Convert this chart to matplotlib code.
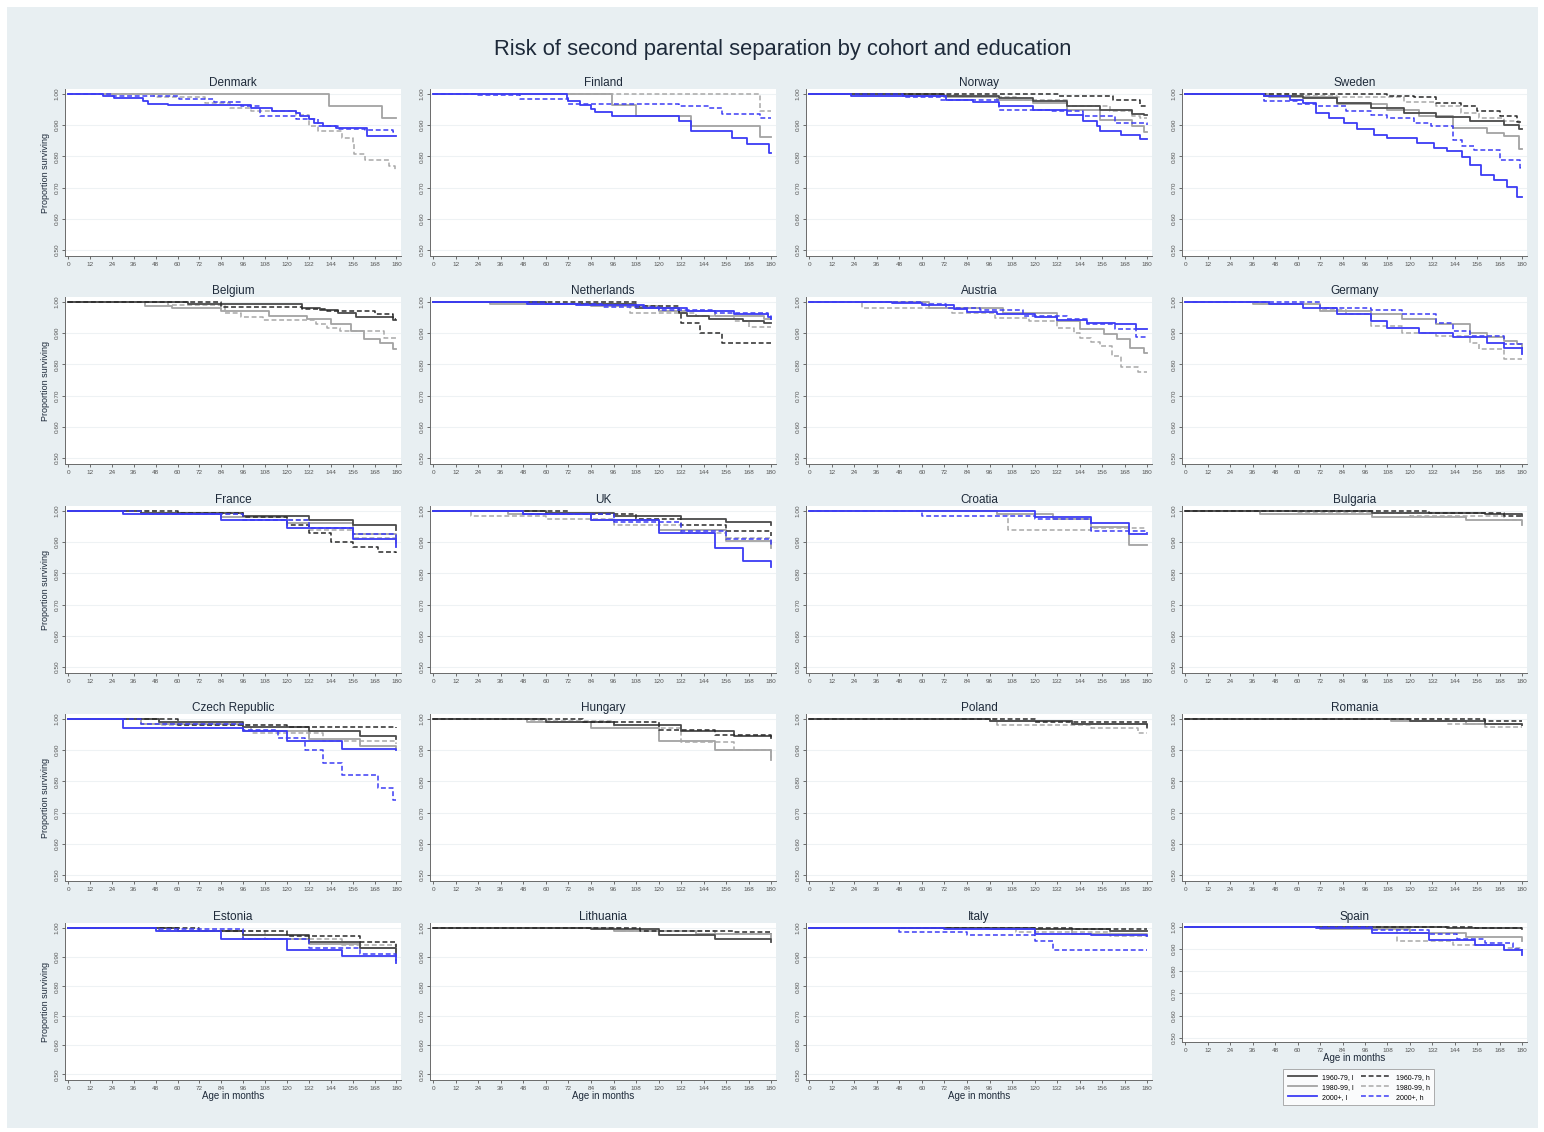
import matplotlib.pyplot as plt
from matplotlib.lines import Line2D
from matplotlib.patches import Rectangle

# Kaplan-Meier survival, read as (month, proportion surviving) steps.
# l1/h1 = 1960-79 low/high education, l2/h2 = 1980-99, l3/h3 = 2000+
denmark = {
    "l2": [(0, 1.0), (143, 0.962), (172, 0.923), (180, 0.923)],
    "h2": [(0, 1.0), (47, 0.99), (75, 0.97), (89, 0.955), (100, 0.945), (125, 0.934),
           (132, 0.896), (137, 0.88), (150, 0.86), (156, 0.843), (157, 0.808),
           (163, 0.789), (176, 0.77), (179, 0.755), (180, 0.755)],
    "l3": [(0, 1.0), (19, 0.995), (25, 0.987), (41, 0.976), (44, 0.969), (55, 0.965),
           (100, 0.956), (112, 0.947), (125, 0.939), (127, 0.93), (132, 0.92),
           (135, 0.907), (140, 0.898), (147, 0.89), (164, 0.864), (180, 0.864)],
    "h3": [(0, 1.0), (24, 0.995), (61, 0.985), (80, 0.975), (95, 0.96), (105, 0.93),
           (125, 0.92), (137, 0.896), (148, 0.888), (163, 0.885), (178, 0.877), (180, 0.877)],
}
finland = {
    "l2": [(0, 1.0), (95, 0.964), (108, 0.931), (137, 0.896), (174, 0.861), (180, 0.861)],
    "h2": [(0, 1.0), (174, 0.947), (180, 0.947)],
    "l3": [(0, 1.0), (71, 0.987), (72, 0.976), (78, 0.966), (84, 0.953), (86, 0.942),
           (95, 0.93), (131, 0.912), (137, 0.88), (159, 0.859), (167, 0.839),
           (179, 0.81), (180, 0.81)],
    "h3": [(0, 1.0), (24, 0.996), (46, 0.984), (72, 0.969), (131, 0.962), (147, 0.955),
           (154, 0.936), (174, 0.923), (180, 0.923)],
}
norway = {
    "l1": [(0, 1.0), (72, 0.995), (84, 0.992), (101, 0.987), (119, 0.976), (137, 0.96),
           (155, 0.95), (172, 0.937), (178, 0.933), (180, 0.933)],
    "h1": [(0, 1.0), (133, 0.995), (162, 0.98), (176, 0.962), (180, 0.962)],
    "l2": [(0, 1.0), (50, 0.995), (72, 0.99), (100, 0.98), (119, 0.971), (137, 0.95),
           (155, 0.918), (172, 0.896), (178, 0.877), (180, 0.877)],
    "h2": [(0, 1.0), (55, 0.996), (80, 0.99), (110, 0.98), (137, 0.96), (160, 0.945),
           (172, 0.928), (176, 0.923), (180, 0.923)],
    "l3": [(0, 1.0), (22, 0.995), (73, 0.982), (87, 0.973), (101, 0.962), (119, 0.95),
           (137, 0.933), (146, 0.912), (153, 0.896), (155, 0.88), (166, 0.869),
           (176, 0.855), (180, 0.855)],
    "h3": [(0, 1.0), (50, 0.99), (70, 0.982), (101, 0.95), (128, 0.944), (146, 0.928),
           (163, 0.907), (180, 0.901)],
}
sweden = {
    "l1": [(0, 1.0), (42, 0.995), (63, 0.987), (81, 0.971), (99, 0.955), (117, 0.939),
           (134, 0.926), (152, 0.914), (170, 0.901), (178, 0.887), (180, 0.887)],
    "h1": [(0, 1.0), (108, 0.995), (122, 0.989), (134, 0.971), (147, 0.96), (156, 0.946),
           (168, 0.928), (177, 0.909), (180, 0.909)],
    "l2": [(0, 1.0), (45, 0.99), (81, 0.969), (108, 0.95), (125, 0.928), (143, 0.89),
           (161, 0.875), (170, 0.864), (178, 0.823), (180, 0.823)],
    "h2": [(0, 1.0), (60, 0.995), (81, 0.989), (117, 0.973), (134, 0.96), (147, 0.939),
           (157, 0.923), (170, 0.912), (178, 0.907), (180, 0.907)],
    "l3": [(0, 1.0), (42, 0.992), (56, 0.982), (63, 0.971), (70, 0.939), (77, 0.923),
           (85, 0.907), (92, 0.888), (101, 0.869), (108, 0.858), (124, 0.842),
           (133, 0.826), (140, 0.817), (148, 0.799), (152, 0.772), (158, 0.74),
           (165, 0.724), (172, 0.702), (177, 0.67), (180, 0.67)],
    "h3": [(0, 1.0), (42, 0.976), (60, 0.969), (70, 0.96), (86, 0.947), (99, 0.933),
           (108, 0.923), (122, 0.907), (131, 0.896), (143, 0.853), (148, 0.832),
           (154, 0.821), (168, 0.789), (179, 0.762), (180, 0.762)],
}
belgium = {
    "l1": [(0, 1.0), (66, 0.993), (128, 0.982), (138, 0.973), (148, 0.964), (158, 0.953),
           (178, 0.943), (180, 0.943)],
    "h1": [(0, 1.0), (84, 0.985), (128, 0.979), (142, 0.971), (168, 0.961), (178, 0.945),
           (180, 0.945)],
    "l2": [(0, 1.0), (42, 0.987), (57, 0.981), (84, 0.971), (110, 0.955), (131, 0.945),
           (144, 0.929), (155, 0.907), (162, 0.883), (171, 0.87), (178, 0.849), (180, 0.849)],
    "h2": [(0, 1.0), (55, 0.99), (86, 0.966), (95, 0.953), (107, 0.941), (136, 0.929),
           (142, 0.918), (149, 0.907), (173, 0.886), (180, 0.886)],
}
netherlands = {
    "l1": [(0, 1.0), (60, 0.995), (108, 0.982), (131, 0.966), (135, 0.955), (147, 0.947),
           (165, 0.939), (176, 0.933), (180, 0.933)],
    "h1": [(0, 1.0), (108, 0.987), (131, 0.968), (132, 0.933), (142, 0.902), (154, 0.87),
           (180, 0.87)],
    "l2": [(0, 1.0), (30, 0.995), (84, 0.987), (120, 0.971), (150, 0.955), (176, 0.945),
           (180, 0.945)],
    "h2": [(0, 1.0), (60, 0.992), (105, 0.966), (140, 0.955), (160, 0.94), (168, 0.92),
           (180, 0.92)],
    "l3": [(0, 1.0), (50, 0.995), (76, 0.99), (112, 0.98), (135, 0.97), (160, 0.96),
           (178, 0.952), (180, 0.947)],
    "h3": [(0, 1.0), (60, 0.995), (90, 0.985), (120, 0.975), (150, 0.965), (178, 0.955),
           (180, 0.95)],
}
austria = {
    "l2": [(0, 1.0), (64, 0.982), (103, 0.966), (132, 0.939), (144, 0.913), (157, 0.897),
           (164, 0.881), (171, 0.854), (178, 0.838), (180, 0.838)],
    "h2": [(0, 1.0), (28, 0.982), (76, 0.966), (99, 0.95), (117, 0.939), (132, 0.918),
           (141, 0.902), (144, 0.886), (150, 0.872), (155, 0.859), (161, 0.827),
           (166, 0.793), (175, 0.776), (180, 0.776)],
    "l3": [(0, 1.0), (44, 0.996), (60, 0.989), (77, 0.977), (84, 0.969), (100, 0.963),
           (120, 0.952), (132, 0.943), (148, 0.934), (163, 0.929), (174, 0.915), (180, 0.915)],
    "h3": [(0, 1.0), (60, 0.993), (73, 0.982), (91, 0.974), (114, 0.955), (137, 0.945),
           (148, 0.929), (163, 0.915), (174, 0.889), (180, 0.889)],
}
germany = {
    "l2": [(0, 1.0), (36, 0.995), (72, 0.971), (99, 0.961), (116, 0.947), (134, 0.929),
           (152, 0.902), (161, 0.889), (170, 0.876), (177, 0.865), (180, 0.854)],
    "h2": [(0, 1.0), (40, 0.995), (72, 0.975), (86, 0.961), (99, 0.923), (116, 0.902),
           (134, 0.891), (152, 0.87), (157, 0.849), (170, 0.817), (180, 0.817)],
    "l3": [(0, 1.0), (45, 0.993), (63, 0.982), (81, 0.961), (99, 0.939), (108, 0.918),
           (125, 0.902), (143, 0.889), (161, 0.87), (170, 0.854), (180, 0.833)],
    "h3": [(0, 1.0), (72, 0.982), (99, 0.975), (116, 0.961), (134, 0.934), (143, 0.907),
           (152, 0.891), (170, 0.865), (180, 0.849)],
}
france = {
    "l1": [(0, 1.0), (40, 0.995), (96, 0.985), (132, 0.97), (156, 0.955), (180, 0.94)],
    "h1": [(0, 1.0), (60, 0.995), (96, 0.98), (120, 0.955), (132, 0.93), (144, 0.9),
           (156, 0.885), (170, 0.87), (180, 0.865)],
    "l2": [(0, 1.0), (40, 0.99), (84, 0.98), (120, 0.96), (156, 0.925), (180, 0.9)],
    "h2": [(0, 1.0), (50, 0.99), (96, 0.97), (132, 0.94), (156, 0.915), (180, 0.895)],
    "l3": [(0, 1.0), (30, 0.99), (84, 0.97), (120, 0.945), (156, 0.91), (180, 0.885)],
    "h3": [(0, 1.0), (40, 0.99), (96, 0.97), (132, 0.945), (156, 0.925), (180, 0.905)],
}
uk = {
    "l1": [(0, 1.0), (60, 0.995), (96, 0.985), (132, 0.975), (156, 0.965), (180, 0.955)],
    "h1": [(0, 1.0), (72, 0.99), (108, 0.975), (132, 0.955), (156, 0.935), (180, 0.92)],
    "l2": [(0, 1.0), (40, 0.99), (84, 0.97), (120, 0.94), (156, 0.905), (180, 0.88)],
    "h2": [(0, 1.0), (20, 0.985), (60, 0.975), (96, 0.955), (132, 0.93), (156, 0.915),
           (180, 0.9)],
    "l3": [(0, 1.0), (48, 0.99), (84, 0.97), (120, 0.93), (150, 0.88), (165, 0.84),
           (180, 0.82)],
    "h3": [(0, 1.0), (48, 0.99), (96, 0.965), (132, 0.935), (156, 0.91), (180, 0.89)],
}
croatia = {
    "l2": [(0, 1.0), (100, 0.99), (130, 0.975), (150, 0.95), (170, 0.89), (180, 0.89)],
    "h2": [(0, 1.0), (100, 0.99), (106, 0.94), (150, 0.945), (180, 0.945)],
    "l3": [(0, 1.0), (120, 0.98), (150, 0.96), (170, 0.925), (180, 0.925)],
    "h3": [(0, 1.0), (60, 0.985), (120, 0.975), (150, 0.935), (180, 0.93)],
}
bulgaria = {
    "l1": [(0, 1.0), (100, 0.995), (160, 0.99), (180, 0.985)],
    "h1": [(0, 1.0), (130, 0.995), (170, 0.985), (180, 0.985)],
    "l2": [(0, 1.0), (40, 0.99), (100, 0.98), (150, 0.97), (180, 0.955)],
    "h2": [(0, 1.0), (60, 0.995), (120, 0.985), (170, 0.97), (180, 0.97)],
}
czech = {
    "l1": [(0, 1.0), (50, 0.99), (96, 0.975), (132, 0.96), (160, 0.945), (180, 0.935)],
    "h1": [(0, 1.0), (60, 0.98), (120, 0.975), (180, 0.97)],
    "l2": [(0, 1.0), (40, 0.985), (96, 0.96), (132, 0.935), (160, 0.915), (180, 0.905)],
    "h2": [(0, 1.0), (50, 0.98), (100, 0.955), (140, 0.93), (180, 0.92)],
    "l3": [(0, 1.0), (30, 0.97), (96, 0.96), (120, 0.93), (150, 0.905), (180, 0.9)],
    "h3": [(0, 1.0), (40, 0.985), (96, 0.965), (115, 0.94), (130, 0.9), (140, 0.86),
           (150, 0.82), (170, 0.78), (178, 0.74), (180, 0.74)],
}
hungary = {
    "l1": [(0, 1.0), (60, 0.99), (96, 0.98), (132, 0.96), (160, 0.945), (180, 0.94)],
    "h1": [(0, 1.0), (80, 0.99), (120, 0.965), (150, 0.95), (180, 0.94)],
    "l2": [(0, 1.0), (50, 0.99), (84, 0.97), (120, 0.93), (150, 0.9), (180, 0.87)],
    "h2": [(0, 1.0), (50, 0.995), (96, 0.97), (132, 0.925), (160, 0.9), (180, 0.875)],
}
poland = {
    "l1": [(0, 1.0), (96, 0.995), (140, 0.985), (180, 0.975)],
    "h1": [(0, 1.0), (120, 0.99), (180, 0.98)],
    "l2": [(0, 1.0), (96, 0.995), (140, 0.985), (180, 0.97)],
    "h2": [(0, 1.0), (100, 0.98), (150, 0.97), (175, 0.955), (180, 0.955)],
}
romania = {
    "l1": [(0, 1.0), (120, 0.995), (160, 0.985), (180, 0.98)],
    "h1": [(0, 1.0), (160, 0.995), (180, 0.995)],
    "l2": [(0, 1.0), (110, 0.995), (150, 0.985), (180, 0.98)],
    "h2": [(0, 1.0), (140, 0.985), (160, 0.975), (180, 0.975)],
}
estonia = {
    "l1": [(0, 1.0), (60, 0.99), (96, 0.975), (132, 0.95), (160, 0.93), (180, 0.905)],
    "h1": [(0, 1.0), (72, 0.99), (120, 0.97), (160, 0.95), (180, 0.935)],
    "l2": [(0, 1.0), (50, 0.99), (96, 0.96), (132, 0.945), (160, 0.93), (180, 0.92)],
    "h2": [(0, 1.0), (60, 0.99), (108, 0.96), (150, 0.94), (180, 0.925)],
    "l3": [(0, 1.0), (48, 0.99), (84, 0.96), (120, 0.925), (150, 0.905), (180, 0.88)],
    "h3": [(0, 1.0), (48, 0.995), (96, 0.96), (132, 0.93), (160, 0.91), (180, 0.885)],
}
lithuania = {
    "l1": [(0, 1.0), (84, 0.995), (120, 0.975), (150, 0.96), (180, 0.95)],
    "h1": [(0, 1.0), (110, 0.99), (160, 0.985), (180, 0.98)],
    "l2": [(0, 1.0), (96, 0.99), (140, 0.98), (180, 0.965)],
    "h2": [(0, 1.0), (100, 0.99), (150, 0.98), (180, 0.975)],
}
italy = {
    "l1": [(0, 1.0), (120, 0.995), (160, 0.99), (180, 0.99)],
    "h1": [(0, 1.0), (140, 0.995), (180, 0.995)],
    "l2": [(0, 1.0), (96, 0.995), (140, 0.98), (180, 0.975)],
    "h2": [(0, 1.0), (110, 0.985), (160, 0.97), (180, 0.97)],
    "l3": [(0, 1.0), (72, 0.995), (120, 0.98), (150, 0.975), (180, 0.97)],
    "h3": [(0, 1.0), (48, 0.985), (84, 0.975), (120, 0.955), (130, 0.925), (180, 0.925)],
}
spain = {
    "l1": [(0, 1.0), (140, 0.995), (180, 0.99)],
    "h1": [(0, 1.0), (155, 0.995), (180, 0.995)],
    "l2": [(0, 1.0), (72, 0.99), (120, 0.97), (150, 0.955), (180, 0.935)],
    "h2": [(0, 1.0), (72, 0.995), (113, 0.935), (143, 0.915), (170, 0.905), (180, 0.895)],
    "l3": [(0, 1.0), (70, 0.995), (100, 0.97), (130, 0.94), (155, 0.915), (170, 0.895),
           (180, 0.87)],
    "h3": [(0, 1.0), (100, 0.985), (130, 0.965), (145, 0.945), (160, 0.925), (175, 0.9),
           (180, 0.895)],
}

panel_names = ["Denmark", "Finland", "Norway", "Sweden",
               "Belgium", "Netherlands", "Austria", "Germany",
               "France", "UK", "Croatia", "Bulgaria",
               "Czech Republic", "Hungary", "Poland", "Romania",
               "Estonia", "Lithuania", "Italy", "Spain"]
panel_data = [denmark, finland, norway, sweden,
              belgium, netherlands, austria, germany,
              france, uk, croatia, bulgaria,
              czech, hungary, poland, romania,
              estonia, lithuania, italy, spain]

legend_labels = {"l1": "1960-79, l", "l2": "1980-99, l", "l3": "2000+, l",
                 "h1": "1960-79, h", "h2": "1980-99, h", "h3": "2000+, h"}
month_ticks = list(range(0, 181, 12))
surv_ticks = [0.5, 0.6, 0.7, 0.8, 0.9, 1.0]

DASH = (0, (3.2, 1.8))
styles = {
    "l1": dict(color="#4a4a4a", ls="-", lw=1.3),
    "h1": dict(color="#2a2a2a", ls=DASH, lw=1.1),
    "l2": dict(color="#a3a3a3", ls="-", lw=1.3),
    "h2": dict(color="#a8a8a8", ls=DASH, lw=1.1),
    "l3": dict(color="#3c3cf5", ls="-", lw=1.3),
    "h3": dict(color="#3c3cf5", ls=DASH, lw=1.1),
}
draw_order = ["l2", "h2", "l1", "h1", "h3", "l3"]

W, H = 1544, 1132
plt.rcParams["font.family"] = ["Liberation Sans", "DejaVu Sans"]
fig = plt.figure(figsize=(W / 100, H / 100), dpi=100, facecolor="white")
fig.patches.append(Rectangle((7 / W, 4 / H), 1531 / W, 1121 / H, transform=fig.transFigure,
                             facecolor="#e8eff2", edgecolor="none", zorder=-10))

fig.text(783 / W, 1 - 50 / H, "Risk of second parental separation by cohort and education",
         ha="center", va="center", fontsize=15.8, color="#1e2a3a")

col_left = [65, 430, 806, 1182]
col_width = [336, 346, 346, 345]
row_top = [89, 297, 506, 714, 923]
row_height = [167, 167, 167, 167, 157]


def px_axes(left, top, width, height):
    return fig.add_axes([left / W, 1 - (top + height) / H, width / W, height / H])


for i, (name, data) in enumerate(zip(panel_names, panel_data)):
    r, c = divmod(i, 4)
    h = row_height[r]
    if name == "Spain":
        h = 119
    ax = px_axes(col_left[c], row_top[r], col_width[c], h)
    ax.set_facecolor("white")
    for key in draw_order:
        if key not in data:
            continue
        months = [p[0] for p in data[key]]
        surv = [p[1] for p in data[key]]
        ax.step(months, surv, where="post", zorder=3, **styles[key])

    ax.set_xlim(-1.7, 182.5)
    ax.set_ylim(0.481, 1.016)
    ax.set_xticks(month_ticks)
    ax.set_yticks(surv_ticks)
    ax.set_yticklabels([f"{v:.2f}" for v in surv_ticks], rotation=90, va="center")
    ax.tick_params(labelsize=4.6, colors="#555555", length=2.5, width=0.6, pad=1.5)
    ax.grid(axis="y", color="#eef2f4", lw=0.8, zorder=0)
    for side in ("top", "right"):
        ax.spines[side].set_visible(False)
    for side in ("left", "bottom"):
        ax.spines[side].set_color("#6a6a6a")
        ax.spines[side].set_linewidth(0.7)
    ax.set_title(name, fontsize=8.5, color="#1e2a3a", pad=1.5)
    if c == 0:
        ax.set_ylabel("Proportion surviving", fontsize=6.5, color="#1e2a3a", labelpad=3)
    if r == 4:
        ax.set_xlabel("Age in months", fontsize=7, color="#1e2a3a", labelpad=0.5)

handles = [Line2D([], [], **styles[k]) for k in ["l1", "l2", "l3", "h1", "h2", "h3"]]
labels = [legend_labels[k] for k in ["l1", "l2", "l3", "h1", "h2", "h3"]]
leg = fig.legend(handles, labels, ncol=2, fontsize=5, frameon=True, fancybox=False,
                 loc="upper left", bbox_to_anchor=(1280 / W, 1 - 1066 / H),
                 handlelength=4.2, columnspacing=1.0, handletextpad=0.8,
                 labelspacing=0.45, borderpad=0.6)
leg.get_frame().set_edgecolor("#999999")
leg.get_frame().set_linewidth(0.7)

fig.savefig("out.png", dpi=100, facecolor=fig.get_facecolor())
